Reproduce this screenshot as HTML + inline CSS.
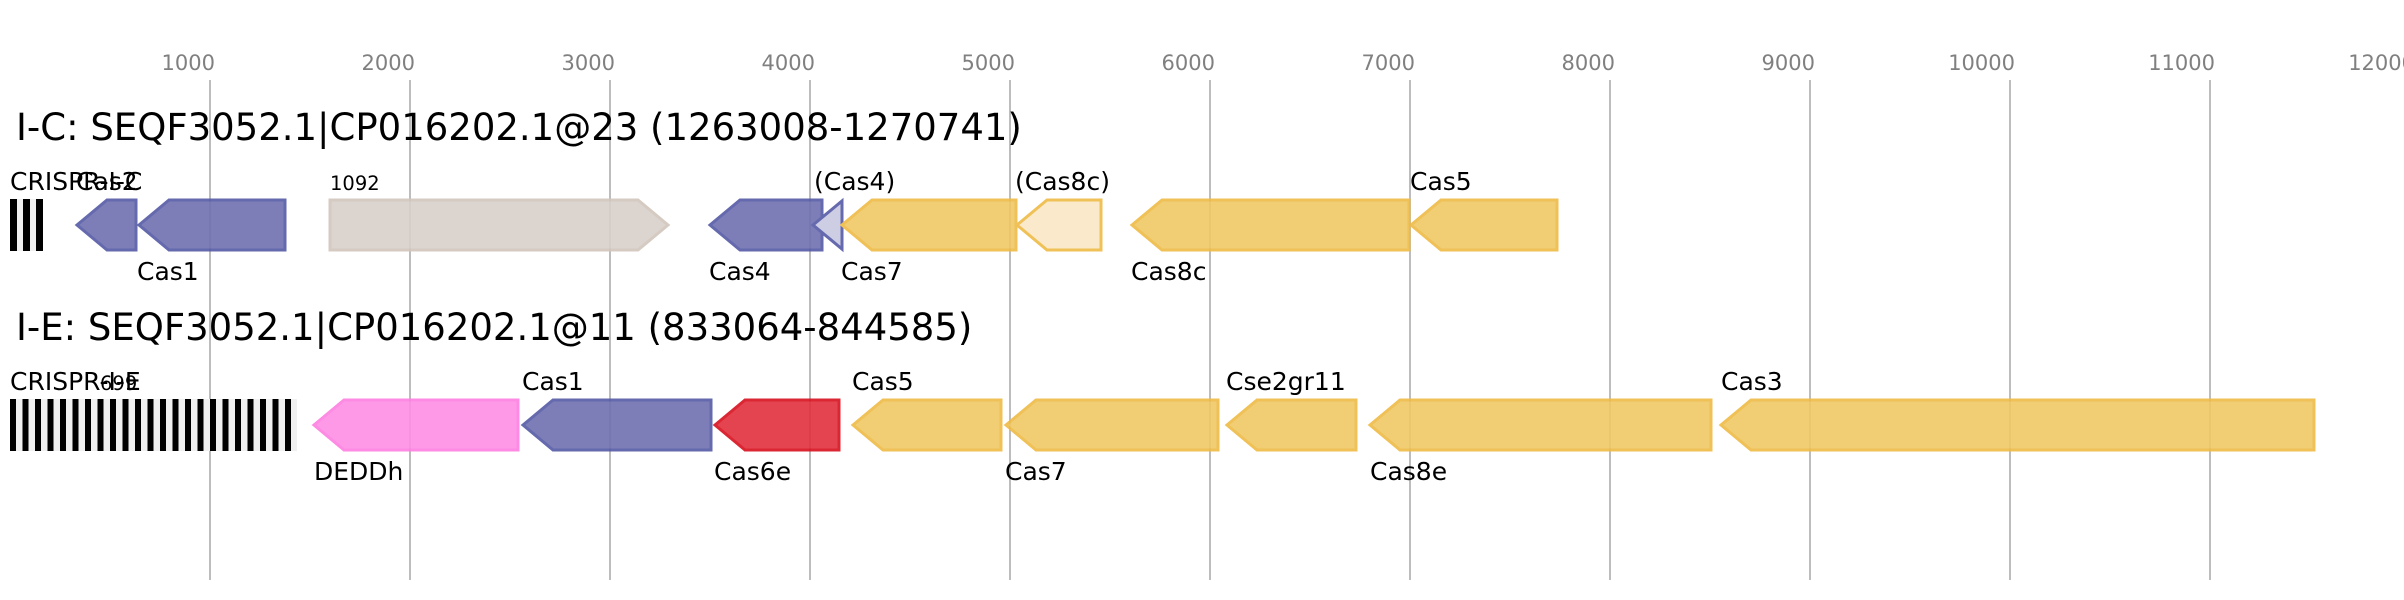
<!DOCTYPE html>
<html><head><meta charset="utf-8"><style>
html,body{margin:0;padding:0;background:#fff;}
svg{display:block;}
text{font-family:"DejaVu Sans","Liberation Sans",sans-serif;}
</style></head><body>
<svg width="2404" height="600" viewBox="0 0 2404 600" xmlns="http://www.w3.org/2000/svg">
<g stroke="#bdbdbd" stroke-width="2">
<line x1="210" y1="80" x2="210" y2="580"/><line x1="410" y1="80" x2="410" y2="580"/>
<line x1="610" y1="80" x2="610" y2="580"/><line x1="810" y1="80" x2="810" y2="580"/>
<line x1="1010" y1="80" x2="1010" y2="580"/><line x1="1210" y1="80" x2="1210" y2="580"/>
<line x1="1410" y1="80" x2="1410" y2="580"/><line x1="1610" y1="80" x2="1610" y2="580"/>
<line x1="1810" y1="80" x2="1810" y2="580"/><line x1="2010" y1="80" x2="2010" y2="580"/>
<line x1="2210" y1="80" x2="2210" y2="580"/>
</g>
<g font-size="21" fill="#808080" text-anchor="end">
<text x="215" y="70">1000</text><text x="415" y="70">2000</text><text x="615" y="70">3000</text>
<text x="815" y="70">4000</text><text x="1015" y="70">5000</text><text x="1215" y="70">6000</text>
<text x="1415" y="70">7000</text><text x="1615" y="70">8000</text><text x="1815" y="70">9000</text>
<text x="2015" y="70">10000</text><text x="2215" y="70">11000</text><text x="2415" y="70">12000</text>
</g>
<text x="16" y="140" font-size="37" fill="#000">I-C: SEQF3052.1|CP016202.1@23 (1263008-1270741)</text>
<text x="16" y="340" font-size="37" fill="#000">I-E: SEQF3052.1|CP016202.1@11 (833064-844585)</text>

<rect x="10" y="199" width="33" height="52" fill="#f0f0f0"/>
<g fill="#000"><rect x="10" y="199" width="7" height="52"/><rect x="23" y="199" width="7" height="52"/><rect x="36" y="199" width="7" height="52"/></g>

<g stroke-width="3" stroke-linejoin="miter" opacity="0.9">
<polygon points="77,225 107,200 136,200 136,250 107,250" fill="#6f71b0" stroke="#5559a6"/>
<polygon points="139,225 169,200 285,200 285,250 169,250" fill="#6f71b0" stroke="#5559a6"/>
<polygon points="330,200 638,200 668,225 638,250 330,250" fill="#d8d0ca" stroke="#d2c6bc"/>
<polygon points="710,225 740,200 822,200 822,250 740,250" fill="#6f71b0" stroke="#5559a6"/>
<polygon points="813,225 842,201 842,249" fill="#c8c9e2" stroke="#5559a6"/>
<polygon points="842,225 872,200 1016,200 1016,250 872,250" fill="#f0c865" stroke="#eebb45"/>
<polygon points="1017,225 1047,200 1101,200 1101,250 1047,250" fill="#fae8c6" stroke="#eebb45"/>
<polygon points="1132,225 1162,200 1409,200 1409,250 1162,250" fill="#f0c865" stroke="#eebb45"/>
<polygon points="1411,225 1441,200 1557,200 1557,250 1441,250" fill="#f0c865" stroke="#eebb45"/>
</g>
<g font-size="25" fill="#000">
<text x="10" y="190">CRISPR-I-C</text>
<text x="76" y="190">Cas2</text>
<text x="330" y="190" font-size="19.5">1092</text>
<text x="814" y="190">(Cas4)</text>
<text x="1015" y="190">(Cas8c)</text>
<text x="1410" y="190">Cas5</text>
<text x="137" y="280">Cas1</text>
<text x="709" y="280">Cas4</text>
<text x="841" y="280">Cas7</text>
<text x="1131" y="280">Cas8c</text>
</g>

<rect x="10" y="399" width="287" height="52" fill="#f0f0f0"/>
<g fill="#000">
<rect x="10" y="399" width="6" height="52"/><rect x="22.5" y="399" width="6" height="52"/><rect x="35" y="399" width="6" height="52"/><rect x="47.5" y="399" width="6" height="52"/>
<rect x="60" y="399" width="6" height="52"/><rect x="72.5" y="399" width="6" height="52"/><rect x="85" y="399" width="6" height="52"/><rect x="97.5" y="399" width="6" height="52"/>
<rect x="110" y="399" width="6" height="52"/><rect x="122.5" y="399" width="6" height="52"/><rect x="135" y="399" width="6" height="52"/><rect x="147.5" y="399" width="6" height="52"/>
<rect x="160" y="399" width="6" height="52"/><rect x="172.5" y="399" width="6" height="52"/><rect x="185" y="399" width="6" height="52"/><rect x="197.5" y="399" width="6" height="52"/>
<rect x="210" y="399" width="6" height="52"/><rect x="222.5" y="399" width="6" height="52"/><rect x="235" y="399" width="6" height="52"/><rect x="247.5" y="399" width="6" height="52"/>
<rect x="260" y="399" width="6" height="52"/><rect x="272.5" y="399" width="6" height="52"/><rect x="285" y="399" width="6" height="52"/>
</g>

<g stroke-width="3" opacity="0.9">
<polygon points="314,425 344,400 518,400 518,450 344,450" fill="#fe8ee6" stroke="#fe7fe0"/>
<polygon points="523,425 553,400 711,400 711,450 553,450" fill="#6f71b0" stroke="#5559a6"/>
<polygon points="715,425 745,400 839,400 839,450 745,450" fill="#e2303c" stroke="#d8101f"/>
<polygon points="853,425 883,400 1001,400 1001,450 883,450" fill="#f0c865" stroke="#eebb45"/>
<polygon points="1006,425 1036,400 1218,400 1218,450 1036,450" fill="#f0c865" stroke="#eebb45"/>
<polygon points="1227,425 1257,400 1356,400 1356,450 1257,450" fill="#f0c865" stroke="#eebb45"/>
<polygon points="1370,425 1400,400 1711,400 1711,450 1400,450" fill="#f0c865" stroke="#eebb45"/>
<polygon points="1721,425 1751,400 2314,400 2314,450 1751,450" fill="#f0c865" stroke="#eebb45"/>
</g>
<g font-size="25" fill="#000">
<text x="10" y="390">CRISPR-I-E</text>
<text x="100" y="390" font-size="19.5">699</text>
<text x="522" y="390">Cas1</text>
<text x="852" y="390">Cas5</text>
<text x="1226" y="390">Cse2gr11</text>
<text x="1721" y="390">Cas3</text>
<text x="314" y="480">DEDDh</text>
<text x="714" y="480">Cas6e</text>
<text x="1005" y="480">Cas7</text>
<text x="1370" y="480">Cas8e</text>
</g>
</svg>
</body></html>
